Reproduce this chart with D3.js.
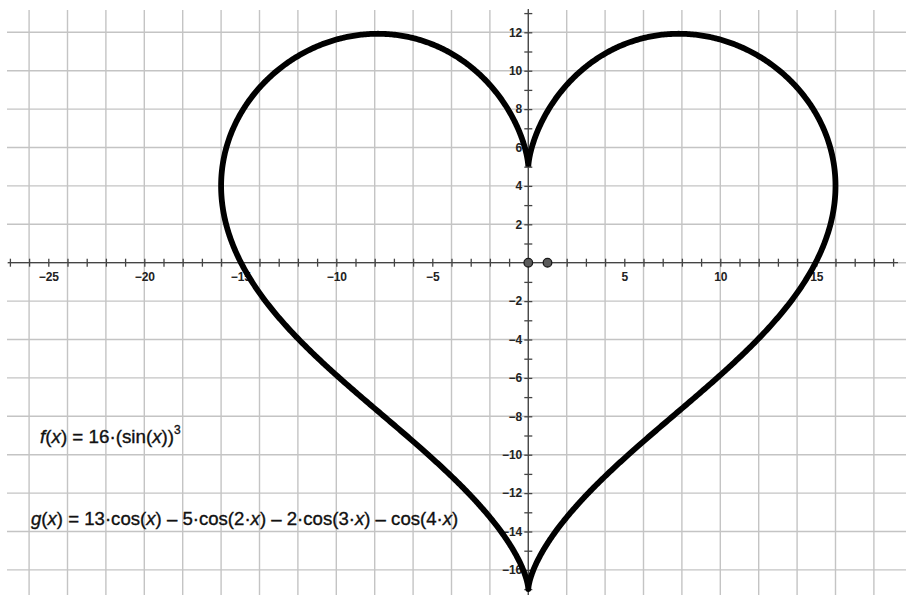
<!DOCTYPE html>
<html>
<head>
<meta charset="utf-8">
<script src="https://cdn.jsdelivr.net/npm/d3@7/dist/d3.min.js"></script>
<style>
  html, body { margin: 0; padding: 0; background: #fff; }
  svg { display: block; }
  .tick text { font-family: "Liberation Sans", Arial, sans-serif; }
</style>
</head>
<body>
<svg id="chart" width="906" height="595"></svg>
<script>
// Heart curve: x = f(t) = 16·sin(t)^3, y = g(t) = 13cos t − 5cos 2t − 2cos 3t − cos 4t
const fAmplitude = 16;
const fPower = 3;
const gCoefficients = [13, -5, -2, -1];
const gHarmonics = [1, 2, 3, 4];

// Marked points on the x-axis
const markedPoints = [[0, 0], [1, 0]];

// Tick labels
const xTickLabels = [-25, -20, -15, -10, -5, 5, 10, 15];
const yTickLabels = [-16, -14, -12, -10, -8, -6, -4, -2, 2, 4, 6, 8, 10, 12];
const gridStep = 2;

const W = 906, H = 595;
const svg = d3.select("#chart");

// equal unit size on both axes, origin placed left of centre
const unit = 19.2;
const originX = 528.3, originY = 262.7;
const x = d3.scaleLinear().domain([-originX / unit, (W - originX) / unit]).range([0, W]);
const y = d3.scaleLinear().domain([originY / unit, (originY - H) / unit]).range([0, H]);

// Grid
const gridArea = { x0: 7, y0: 10, x1: W, y1: H };
const grid = svg.append("g");
const gx = d3.range(Math.ceil(x.invert(gridArea.x0) / gridStep) * gridStep, x.invert(gridArea.x1), gridStep);
const gy = d3.range(Math.ceil(y.invert(gridArea.y1) / gridStep) * gridStep, y.invert(gridArea.y0), gridStep);
grid.selectAll("line.v").data(gx).join("line")
  .attr("x1", d => x(d)).attr("x2", d => x(d))
  .attr("y1", gridArea.y0).attr("y2", gridArea.y1)
  .attr("stroke", "#c4c4c4").attr("stroke-width", 1.4);
grid.selectAll("line.h").data(gy).join("line")
  .attr("y1", d => y(d)).attr("y2", d => y(d))
  .attr("x1", gridArea.x0).attr("x2", gridArea.x1)
  .attr("stroke", "#c4c4c4").attr("stroke-width", 1.4);

// Axes
const xTicks = d3.range(-27, 20);
const yTicks = d3.range(-17, 14).filter(v => v !== 0);
const fmt = v => (v < 0 ? "\u2212" : "") + Math.abs(v);

const xAxis = svg.append("g").attr("transform", `translate(0,${y(0)})`)
  .call(d3.axisBottom(x).tickValues(xTicks).tickSize(4)
    .tickFormat(v => xTickLabels.includes(v) ? fmt(v) : ""));
xAxis.select(".domain").attr("d", `M8,0H898`);
xAxis.selectAll(".tick line").attr("y1", -4).attr("y2", 4);
xAxis.selectAll("path, line").attr("stroke", "#444").attr("stroke-width", 1.3);
xAxis.selectAll("text").attr("y", 10).attr("font-size", 12).attr("fill", "#222")
  .attr("font-weight", "bold").attr("dy", "0.71em");

const yAxis = svg.append("g").attr("transform", `translate(${x(0)},0)`)
  .call(d3.axisLeft(y).tickValues(yTicks).tickSize(4)
    .tickFormat(v => yTickLabels.includes(v) ? fmt(v) : ""));
yAxis.select(".domain").attr("d", `M0,9V${H}`);
yAxis.selectAll(".tick line").attr("x1", -4).attr("x2", 4);
yAxis.selectAll("path, line").attr("stroke", "#444").attr("stroke-width", 1.3);
yAxis.selectAll("text").attr("x", -6).attr("font-size", 12).attr("fill", "#222")
  .attr("font-weight", "bold");

// Heart curve from the stated f and g
const ts = d3.range(0, 2 * Math.PI + 1e-9, Math.PI / 720);
const heart = ts.map(t => [
  fAmplitude * Math.pow(Math.sin(t), fPower),
  d3.sum(gCoefficients, (c, i) => c * Math.cos(gHarmonics[i] * t))
]);
svg.append("path")
  .datum(heart)
  .attr("d", d3.line().x(d => x(d[0])).y(d => y(d[1])))
  .attr("fill", "none").attr("stroke", "#000").attr("stroke-width", 5.8)
  .attr("stroke-linejoin", "round");

// Points
svg.selectAll("circle.pt").data(markedPoints).join("circle")
  .attr("cx", d => x(d[0])).attr("cy", d => y(d[1])).attr("r", 4.3)
  .attr("fill", "#5a5a5a").attr("stroke", "#1a1a1a").attr("stroke-width", 1.3);

// Formula labels
const labelFont = "'Liberation Sans', Arial, sans-serif";
const fText = svg.append("text").attr("x", 40).attr("y", 443)
  .attr("font-family", labelFont).attr("font-size", 18.8)
  .attr("fill", "#111").attr("stroke", "#111").attr("stroke-width", 0.35);
fText.append("tspan").attr("font-style", "italic").text("f");
fText.append("tspan").text("(");
fText.append("tspan").attr("font-style", "italic").text("x");
fText.append("tspan").text(") = 16\u00b7(sin(");
fText.append("tspan").attr("font-style", "italic").text("x");
fText.append("tspan").text("))");
fText.append("tspan").attr("font-size", 12).attr("dy", -9).text("3");

const gText = svg.append("text").attr("x", 31).attr("y", 525)
  .attr("font-family", labelFont).attr("font-size", 18.6)
  .attr("fill", "#111").attr("stroke", "#111").attr("stroke-width", 0.35);
const gParts = [
  ["g", true], ["(", false], ["x", true], [") = 13\u00b7cos(", false], ["x", true],
  [") \u2013 5\u00b7cos(2\u00b7", false], ["x", true], [") \u2013 2\u00b7cos(3\u00b7", false], ["x", true],
  [") \u2013 cos(4\u00b7", false], ["x", true], [")", false]
];
gParts.forEach(([s, it]) => gText.append("tspan").attr("font-style", it ? "italic" : "normal").text(s));
</script>
</body>
</html>
